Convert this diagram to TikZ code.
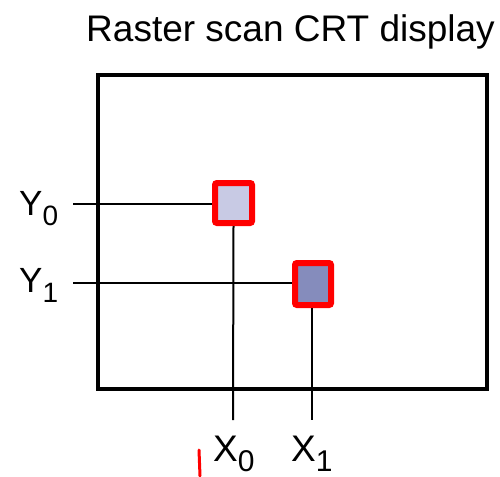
\documentclass[tikz,border=0pt]{standalone}
\usepackage{fontspec}
\setmainfont{Liberation Sans}
\definecolor{pixlight}{RGB}{200,202,228}
\definecolor{pixdark}{RGB}{133,140,188}
\definecolor{penred}{RGB}{255,0,0}
\begin{document}
\begin{tikzpicture}[x=1pt,y=-1pt,
  ylbl/.style={font=\fontsize{35}{35}\selectfont, anchor=base west, inner sep=0pt},
  xlbl/.style={font=\fontsize{37}{37}\selectfont, anchor=base west, inner sep=0pt},
  pix/.style={draw=penred, line width=6pt, rounded corners=2pt, inner sep=0pt},
  wire/.style={line width=2pt}]
\useasboundingbox (0,0) rectangle (500,476);
\newcommand{\ysub}[1]{\raisebox{-10pt}{\fontsize{28}{28}\selectfont #1}}
\newcommand{\xsub}[1]{\raisebox{-10pt}{\fontsize{30}{30}\selectfont #1}}
\node[font=\fontsize{37}{37}\selectfont, anchor=base, inner sep=0pt] (title) at (290.5,42) {Raster scan CRT display};
\node[draw, line width=3.5pt, minimum width=389pt, minimum height=314pt, inner sep=0pt] (screen) at (292.5,232) {};
\node[pix, fill=pixlight, minimum width=37pt, minimum height=40pt] (p0) at (233.5,203) {};
\node[pix, fill=pixdark, minimum width=36pt, minimum height=42pt] (p1) at (313,284) {};
\node[ylbl] (y0) at (19,215) {Y\ysub{0}};
\node[ylbl] (y1) at (19,292) {Y\ysub{1}};
\node[xlbl] (x0) at (213,461) {X\xsub{0}};
\node[xlbl] (x1) at (291,461) {X\xsub{1}};
\coordinate (y0s) at (73,204);
\coordinate (y1s) at (73,283);
\coordinate (x0e) at (233,420);
\coordinate (x1e) at (312,420);
\draw[wire] (y0s) -- (y0s -| p0.west);
\draw[wire] (y1s) -- (y1s -| p1.west);
\draw[wire] (p0.south) -- (x0e);
\draw[wire] (x1e |- p1.south) -- (x1e);
\coordinate (m0) at (199,450);
\coordinate (m1) at (200,476);
\draw[penred, line width=3pt, line cap=round] (m0) -- (m1);
\end{tikzpicture}
\end{document}
